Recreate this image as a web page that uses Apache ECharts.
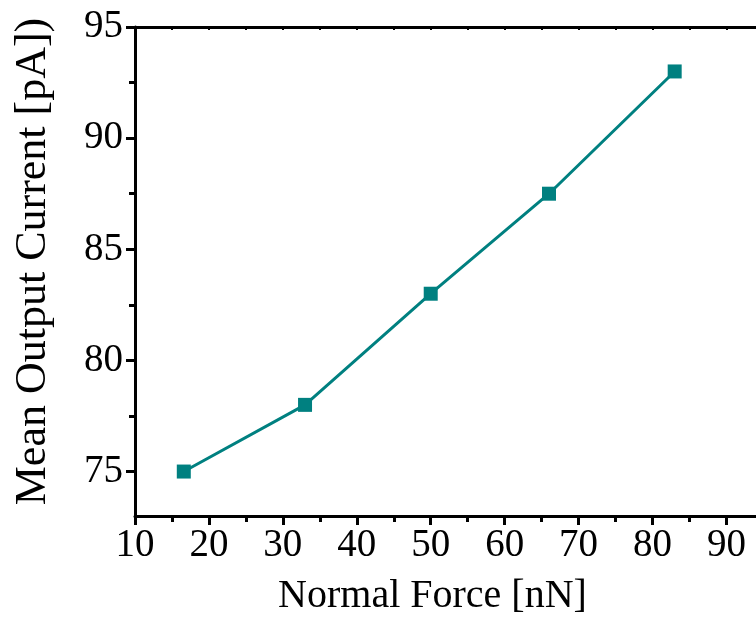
<!DOCTYPE html>
<html><head><meta charset="utf-8">
<script src="https://cdn.jsdelivr.net/npm/echarts@6/dist/echarts.min.js"></script>
<style>html,body{margin:0;padding:0;background:#fff}#c{width:756px;height:622px}</style>
</head><body><div id="c"></div>
<script>
var forceNN = [16.6, 33, 50, 66, 83];
var currentPA = [75, 78, 83, 87.5, 93];
var xMajorTicks = [10, 20, 30, 40, 50, 60, 70, 80, 90];
var xMinorTicks = [15, 25, 35, 45, 55, 65, 75, 85];
var xTopTicks = [15, 20, 25, 30, 35, 40, 45, 50, 55, 60, 65, 70, 75, 80, 85, 90];
var yMajorTicks = [75, 80, 85, 90, 95];
var yMinorTicks = [77.5, 82.5, 87.5, 92.5];
var xTitle = 'Normal Force [nN]';
var yTitle = 'Mean Output Current [pA])';

var FONT = 'Liberation Serif';
var pts = forceNN.map(function (x, i) { return [x, currentPA[i]]; });
var chart = echarts.init(document.getElementById('c'));
chart.setOption({
  animation: false,
  grid: { left: 135, top: 27, right: 0, bottom: 106, containLabel: false, outerBoundsMode: 'none' },
  xAxis: [
    { type: 'value', min: 10, max: 94, position: 'bottom',
      axisLine: { lineStyle: { color: '#000', width: 3 } },
      axisTick: { customValues: xMajorTicks, length: 9, lineStyle: { width: 3, color: '#000' } },
      axisLabel: { customValues: xMajorTicks, fontFamily: FONT, fontSize: 39, color: '#000', margin: 10 },
      splitLine: { show: false },
      name: xTitle, nameLocation: 'middle', nameGap: 60,
      nameTextStyle: { fontFamily: FONT, fontSize: 40, color: '#000', padding: [0, 26, 0, 0] } },
    { type: 'value', min: 10, max: 94, position: 'bottom',
      axisLine: { show: false },
      axisTick: { customValues: xMinorTicks, length: 6, lineStyle: { width: 3, color: '#000' } },
      axisLabel: { show: false }, splitLine: { show: false } },
    { type: 'value', min: 10, max: 94, position: 'top',
      axisLine: { lineStyle: { color: '#000', width: 3 } },
      axisTick: { inside: true, customValues: xTopTicks, length: 3, lineStyle: { width: 2, color: '#000' } },
      axisLabel: { show: false }, splitLine: { show: false } }
  ],
  yAxis: [
    { type: 'value', min: 73, max: 95,
      axisLine: { show: true, lineStyle: { color: '#000', width: 3 } },
      axisTick: { customValues: yMajorTicks, length: 9, lineStyle: { width: 3, color: '#000' } },
      axisLabel: { customValues: yMajorTicks, fontFamily: FONT, fontSize: 39, color: '#000', margin: 12 },
      splitLine: { show: false },
      name: yTitle, nameLocation: 'middle', nameGap: 80, nameRotate: 90,
      nameTextStyle: { fontFamily: FONT, fontSize: 44, color: '#000', padding: [0, 0, 0, 20] } },
    { type: 'value', min: 73, max: 95, position: 'left',
      axisLine: { show: false },
      axisTick: { customValues: yMinorTicks, length: 6, lineStyle: { width: 3, color: '#000' } },
      axisLabel: { show: false }, splitLine: { show: false } }
  ],
  series: [{
    type: 'line', data: pts, xAxisIndex: 0, yAxisIndex: 0,
    symbol: 'rect', symbolSize: 14,
    lineStyle: { color: '#008080', width: 3 },
    itemStyle: { color: '#008080' }
  }]
});
</script></body></html>
